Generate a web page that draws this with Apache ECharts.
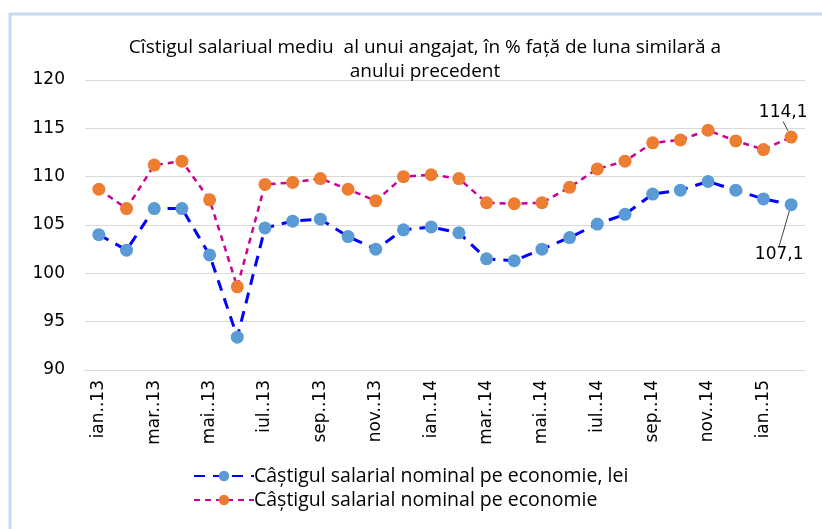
<!DOCTYPE html>
<html>
<head>
<meta charset="utf-8">
<script src="https://cdn.jsdelivr.net/npm/echarts@6/dist/echarts.min.js"></script>
<style>
  html, body { margin: 0; padding: 0; background: #fff; }
  #main { width: 822px; height: 529px; }
</style>
</head>
<body>
<div id="main"></div>
<script>
var months = ['ian..13', 'feb..13', 'mar..13', 'apr..13', 'mai..13', 'iun..13', 'iul..13', 'aug..13',
  'sep..13', 'oct..13', 'nov..13', 'dec..13', 'ian..14', 'feb..14', 'mar..14', 'apr..14', 'mai..14',
  'iun..14', 'iul..14', 'aug..14', 'sep..14', 'oct..14', 'nov..14', 'dec..14', 'ian..15', 'feb..15'];

// nominal wage, lei (blue)
var nominalLei = [104.0, 102.4, 106.7, 106.7, 101.9, 93.4, 104.7, 105.4, 105.6, 103.8, 102.5, 104.5,
  104.8, 104.2, 101.5, 101.3, 102.5, 103.7, 105.1, 106.1, 108.2, 108.6, 109.5, 108.6, 107.7, 107.1];

// nominal wage (orange)
var nominal = [108.7, 106.7, 111.2, 111.6, 107.6, 98.6, 109.2, 109.4, 109.8, 108.7, 107.5, 110.0,
  110.2, 109.8, 107.3, 107.2, 107.3, 108.9, 110.8, 111.6, 113.5, 113.8, 114.8, 113.7, 112.8, 114.1];

var yTicks = { min: 90, max: 120, step: 5 };

var font = '"Open Sans", sans-serif';
var numFont = 'Verdana, "DejaVu Sans", sans-serif';

var myChart = echarts.init(document.getElementById('main'), null, { renderer: 'canvas' });

var lastIdx = months.length - 1;

// only the last point gets a value label with a leader line
function withLastLabel(arr) {
  return arr.map(function (v, i) {
    if (i !== lastIdx) return v;
    return {
      value: v,
      label: { show: true },
      labelLine: { show: true, lineStyle: { color: '#404040', width: 1 } }
    };
  });
}

function commaFmt(p) {
  return String(p.value).replace('.', ',');
}

var option = {
  animation: false,
  title: {
    text: 'Cîstigul salariual mediu  al unui angajat, în % față de luna similară a\nanului precedent',
    left: 420,
    textAlign: 'center',
    top: 31,
    textStyle: { fontFamily: font, fontSize: 19, fontWeight: 'normal', color: '#000', lineHeight: 24 }
  },
  graphic: [{
    type: 'rect',
    shape: { x: 10, y: 14, width: 830, height: 530 },
    style: { fill: 'none', stroke: '#c6d9f0', lineWidth: 3 },
    silent: true
  }],
  legend: {
    orient: 'vertical',
    left: 188,
    top: 461,
    itemGap: 4,
    itemWidth: 60,
    itemHeight: 13,
    textStyle: { fontFamily: font, fontSize: 19.5, color: '#000', padding: [0, 0, 0, -5] },
    data: ['Câștigul salarial nominal pe economie, lei', 'Câștigul salarial nominal pe economie']
  },
  grid: { left: 85, right: 17, top: 80, bottom: 159 },
  xAxis: {
    type: 'category',
    data: months,
    boundaryGap: true,
    axisTick: { show: false },
    axisLine: { lineStyle: { color: '#d9d9d9' } },
    axisLabel: {
      interval: 1,
      rotate: 90,
      margin: 10,
      fontFamily: numFont,
      fontSize: 17,
      color: '#000'
    }
  },
  yAxis: {
    type: 'value',
    min: yTicks.min,
    max: yTicks.max,
    interval: yTicks.step,
    axisLine: { show: false },
    axisTick: { show: false },
    splitLine: { lineStyle: { color: '#d9d9d9' } },
    axisLabel: {
      margin: 20,
      fontFamily: numFont,
      fontSize: 17,
      color: '#000'
    }
  },
  series: [
    {
      name: 'Câștigul salarial nominal pe economie, lei',
      type: 'line',
      data: withLastLabel(nominalLei),
      symbol: 'circle',
      symbolSize: 13,
      itemStyle: { color: '#5b9bd5' },
      lineStyle: { color: '#0000ff', width: 3, type: [11, 8] },
      label: {
        show: false,
        position: 'bottom',
        formatter: commaFmt,
        fontFamily: numFont,
        fontSize: 17,
        color: '#000'
      },
      labelLayout: function (p) {
        if (p.dataIndex === lastIdx) return { dx: -12, dy: 30 };
      },
      z: 2
    },
    {
      name: 'Câștigul salarial nominal pe economie',
      type: 'line',
      data: withLastLabel(nominal),
      symbol: 'circle',
      symbolSize: 13,
      itemStyle: { color: '#ed7d31' },
      lineStyle: { color: '#cc0099', width: 2.5, type: [6, 5] },
      label: {
        show: false,
        position: 'top',
        formatter: commaFmt,
        fontFamily: numFont,
        fontSize: 17,
        color: '#000'
      },
      labelLayout: function (p) {
        if (p.dataIndex === lastIdx) return { dx: -8, dy: -4 };
      },
      z: 3
    }
  ]
};

myChart.setOption(option);
window.addEventListener('resize', myChart.resize);
</script>
</body>
</html>
